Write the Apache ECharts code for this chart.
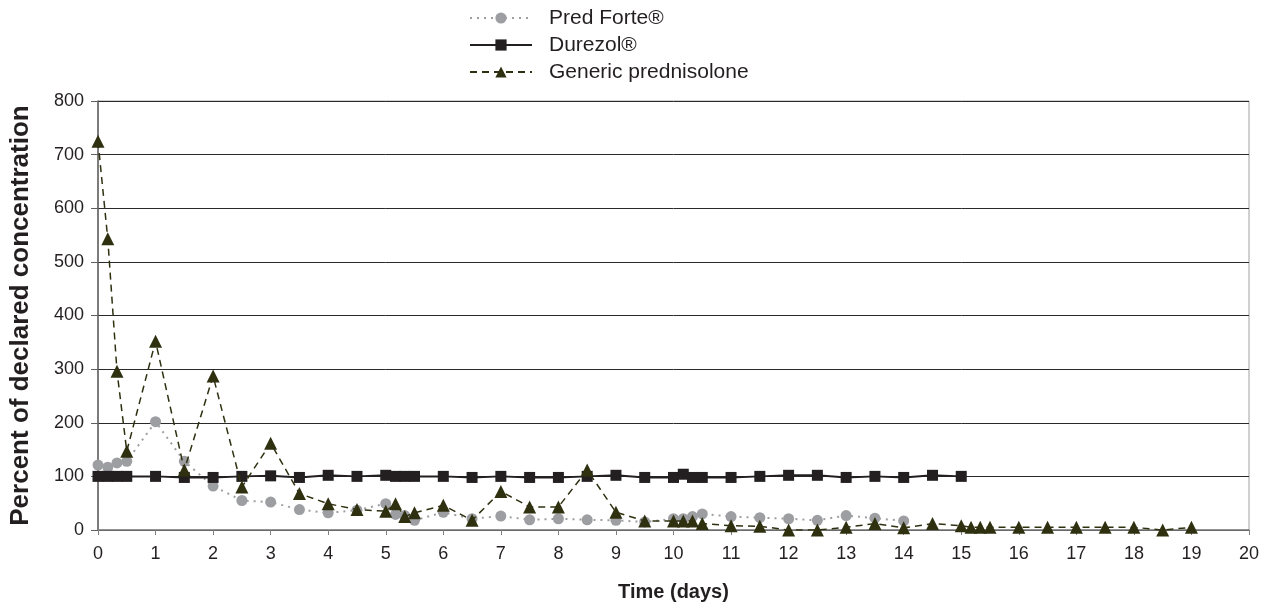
<!DOCTYPE html>
<html>
<head>
<meta charset="utf-8">
<script src="https://cdn.jsdelivr.net/npm/echarts@6/dist/echarts.min.js"></script>
<style>html,body{margin:0;padding:0;background:#fff}#c{width:1270px;height:611px}</style>
</head>
<body>
<div id="c"></div>
<script>
var seriesNames = ['Pred Forte®', 'Durezol®', 'Generic prednisolone'];
var xTitle = 'Time (days)';
var yTitle = 'Percent of declared concentration';

var predForteDays = [0, 0.17, 0.33, 0.5, 1, 1.5, 2, 2.5, 3, 3.5, 4, 4.5, 5, 5.17, 5.33, 5.5, 6, 6.5, 7, 7.5, 8, 8.5, 9, 9.5, 10, 10.17, 10.33, 10.5, 11, 11.5, 12, 12.5, 13, 13.5, 14];
var predForteValues = [121, 117, 125, 128, 202, 128, 82, 55, 52, 38, 32, 37, 49, 29, 27, 18, 33, 21, 26, 19, 21, 19, 18, 15, 21, 21, 25, 30, 25, 23, 21, 18, 27, 22, 17];

var durezolDays = [0, 0.17, 0.33, 0.5, 1, 1.5, 2, 2.5, 3, 3.5, 4, 4.5, 5, 5.17, 5.33, 5.5, 6, 6.5, 7, 7.5, 8, 8.5, 9, 9.5, 10, 10.17, 10.33, 10.5, 11, 11.5, 12, 12.5, 13, 13.5, 14, 14.5, 15];
var durezolValues = [100, 100, 100, 100, 100, 98, 98, 100, 101, 98, 102, 100, 102, 100, 100, 100, 100, 98, 100, 98, 98, 100, 102, 98, 98, 104, 98, 98, 98, 100, 102, 102, 98, 100, 98, 102, 100];

var genericDays = [0, 0.17, 0.33, 0.5, 1, 1.5, 2, 2.5, 3, 3.5, 4, 4.5, 5, 5.17, 5.33, 5.5, 6, 6.5, 7, 7.5, 8, 8.5, 9, 9.5, 10, 10.17, 10.33, 10.5, 11, 11.5, 12, 12.5, 13, 13.5, 14, 14.5, 15, 15.17, 15.33, 15.5, 16, 16.5, 17, 17.5, 18, 18.5, 19];
var genericValues = [725, 543, 296, 147, 352, 112, 287, 80, 162, 68, 49, 38, 35, 49, 25, 32, 46, 18, 72, 43, 43, 112, 33, 17, 17, 17, 17, 12, 8, 7, 0, 0, 5, 12, 4, 12, 8, 5, 5, 5, 5, 5, 5, 5, 5, 0, 5];

function pairs(xs, ys) { return xs.map(function (x, i) { return [x, ys[i]]; }); }

var font = 'Liberation Sans, Arial, sans-serif';
var chart = echarts.init(document.getElementById('c'), null, { renderer: 'canvas' });
chart.setOption({
  animation: false,
  backgroundColor: '#ffffff',
  textStyle: { fontFamily: font },
  legend: {
    orient: 'vertical',
    left: 464,
    top: 2,
    itemWidth: 62,
    itemHeight: 14,
    itemGap: 5,
    textStyle: { fontSize: 21, lineHeight: 22, color: '#231f20', fontFamily: font, padding: [0, 0, 0, 12] },
    data: seriesNames
  },
  grid: {
    left: 98, right: 21, top: 101, bottom: 81,
    outerBoundsMode: 'none', containLabel: false,
    show: true, borderColor: '#a0a0a0', borderWidth: 1
  },
  xAxis: {
    type: 'value', min: 0, max: 20, interval: 1,
    name: xTitle, nameLocation: 'middle', nameGap: 52,
    nameTextStyle: { fontSize: 20, fontWeight: 'bold', color: '#231f20', fontFamily: font },
    axisLine: { show: true, lineStyle: { color: '#808080', width: 1.5 } },
    axisTick: { show: true, length: 5, lineStyle: { color: '#808080' } },
    axisLabel: { fontSize: 18, color: '#231f20', margin: 15, fontFamily: font },
    splitLine: { show: false }
  },
  yAxis: {
    type: 'value', min: 0, max: 800, interval: 100,
    name: yTitle, nameLocation: 'middle', nameGap: 64,
    nameTextStyle: { fontSize: 26, fontWeight: 'bold', color: '#231f20', fontFamily: font },
    axisLine: { show: true, lineStyle: { color: '#606060', width: 1.5 } },
    axisTick: { show: true, length: 7, lineStyle: { color: '#606060' } },
    axisLabel: { fontSize: 18, color: '#231f20', margin: 14, fontFamily: font },
    splitLine: { show: true, lineStyle: { color: '#2a2a2a', width: 1 } }
  },
  series: [
    {
      name: seriesNames[0], type: 'line', data: pairs(predForteDays, predForteValues),
      symbol: 'circle', symbolSize: 11,
      itemStyle: { color: '#9d9ea2' },
      lineStyle: { color: '#9d9ea2', width: 2, type: [2, 5] },
      z: 2
    },
    {
      name: seriesNames[1], type: 'line', data: pairs(durezolDays, durezolValues),
      symbol: 'rect', symbolSize: 11,
      itemStyle: { color: '#231f20' },
      lineStyle: { color: '#231f20', width: 2, type: 'solid' },
      z: 3
    },
    {
      name: seriesNames[2], type: 'line', data: pairs(genericDays, genericValues),
      symbol: 'triangle', symbolSize: 13,
      itemStyle: { color: '#2f3010' },
      lineStyle: { color: '#2f3010', width: 1.5, type: [7, 5] },
      z: 4
    }
  ]
});
</script>
</body>
</html>
